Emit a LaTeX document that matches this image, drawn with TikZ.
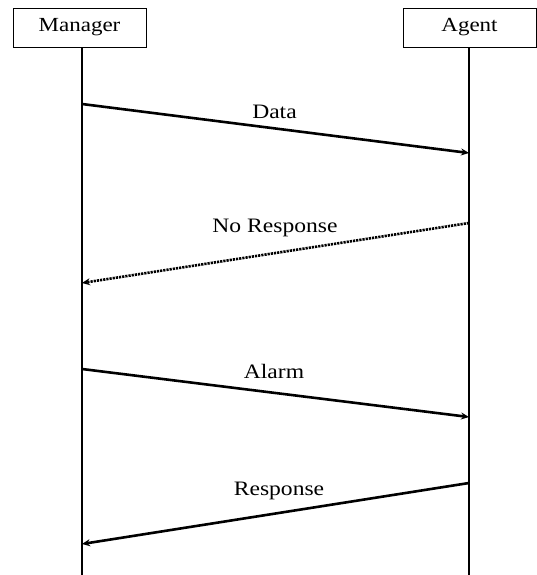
\documentclass[tikz,border=0pt]{standalone}
\usepackage{fontspec}
\setmainfont[FakeStretch=1.15]{Liberation Serif}
\usetikzlibrary{arrows.meta}
\begin{document}
\begin{tikzpicture}[x=1pt,y=-1pt,
  actor/.style={draw,line width=0.9pt,minimum width=133pt,minimum height=39pt,inner sep=0pt,font=\fontsize{20}{22}\selectfont},
  lifeline/.style={line width=2.8pt},
  msg/.style={line width=2.6pt,-{Stealth[length=8pt,width=7pt]}},
  dotmsg/.style={msg,dash pattern=on 2.2pt off 1pt},
  lbl/.style={font=\fontsize{20.5}{22}\selectfont,inner sep=0pt,anchor=base}]
\useasboundingbox (0,0) rectangle (537,575);
\fill[white] (0,0) rectangle (537,575);
% participants
\node[actor] (mgr) at (79.5,27.5) {Manager};
\node[actor] (agt) at (469.5,27.5) {Agent};
\coordinate (mgrEnd) at (82,575);
\coordinate (agtEnd) at (469,575);
\draw[lifeline] (mgr.south -| mgrEnd) -- (mgrEnd);
\draw[lifeline] (agt.south -| agtEnd) -- (agtEnd);
% message end points on the lifelines
\coordinate (d1) at (82,104);  \coordinate (d2) at (469,153);
\coordinate (n1) at (469,223); \coordinate (n2) at (82,283);
\coordinate (a1) at (82,369);  \coordinate (a2) at (469,417);
\coordinate (r1) at (469,483); \coordinate (r2) at (82,544);
% messages
\draw[msg] (d1) -- (d2);
\draw[dotmsg] (n1) -- (n2);
\draw[msg] (a1) -- (a2);
\draw[msg] (r1) -- (r2);
% labels
\node[lbl] (ld) at (274.5,118) {Data};
\node[lbl] (ln) at (275,232) {No Response};
\node[lbl] (la) at (274,378) {Alarm};
\node[lbl] (lr) at (279,495) {Response};
\end{tikzpicture}
\end{document}
